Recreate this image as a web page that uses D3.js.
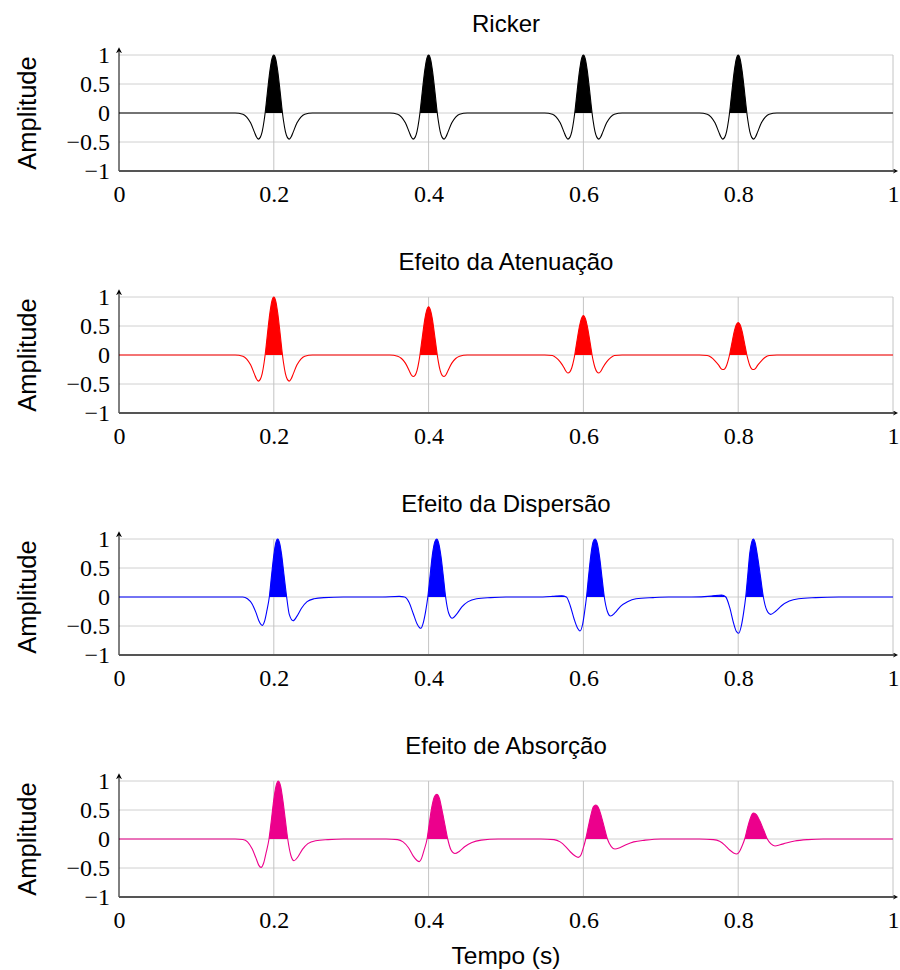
<!DOCTYPE html>
<html>
<head>
<meta charset="utf-8">
<script src="https://cdn.jsdelivr.net/npm/d3@7"></script>
<style>
  body { margin: 0; background: #fff; }
  text { fill: #000; }
</style>
</head>
<body>
<svg id="chart" width="900" height="970"></svg>
<script>
// ---- data ----
var titles = ["Ricker", "Efeito da Atenuação", "Efeito da Dispersão", "Efeito de Absorção"];
var xTicks = [0, 0.2, 0.4, 0.6, 0.8, 1];
var yTicks = [-1, -0.5, 0, 0.5, 1];
var xLabel = "Tempo (s)", yLabel = "Amplitude";

// sample times of the four symmetric pulses (ricker + attenuation)
var pulseTimes = [
  [0.15,0.16,0.165,0.17,0.175,0.1775,0.18,0.1825,0.185,0.1875,0.1888,0.19,0.1925,0.195,0.1975,0.2,0.2025,0.205,0.2075,0.21,0.2112,0.2125,0.215,0.2175,0.22,0.2225,0.225,0.23,0.235,0.24,0.25],
  [0.35,0.36,0.365,0.37,0.375,0.3775,0.38,0.3825,0.385,0.3875,0.3888,0.39,0.3925,0.395,0.3975,0.4,0.4025,0.405,0.4075,0.41,0.4112,0.4125,0.415,0.4175,0.42,0.4225,0.425,0.43,0.435,0.44,0.45],
  [0.55,0.56,0.565,0.57,0.575,0.5775,0.58,0.5825,0.585,0.5875,0.5888,0.59,0.5925,0.595,0.5975,0.6,0.6025,0.605,0.6075,0.61,0.6112,0.6125,0.615,0.6175,0.62,0.6225,0.625,0.63,0.635,0.64,0.65],
  [0.75,0.76,0.765,0.77,0.775,0.7775,0.78,0.7825,0.785,0.7875,0.7888,0.79,0.7925,0.795,0.7975,0.8,0.8025,0.805,0.8075,0.81,0.8112,0.8125,0.815,0.8175,0.82,0.8225,0.825,0.83,0.835,0.84,0.85]
];

var rickerValues = [
  [0,-0.02,-0.07,-0.17,-0.33,-0.41,-0.45,-0.42,-0.32,-0.13,0,0.14,0.45,0.73,0.93,1,0.93,0.73,0.45,0.14,0,-0.13,-0.32,-0.42,-0.45,-0.41,-0.33,-0.17,-0.07,-0.02,0],
  [0,-0.02,-0.07,-0.17,-0.33,-0.41,-0.45,-0.42,-0.32,-0.13,0,0.14,0.45,0.73,0.93,1,0.93,0.73,0.45,0.14,0,-0.13,-0.32,-0.42,-0.45,-0.41,-0.33,-0.17,-0.07,-0.02,0],
  [0,-0.02,-0.07,-0.17,-0.33,-0.41,-0.45,-0.42,-0.32,-0.13,0,0.14,0.45,0.73,0.93,1,0.93,0.73,0.45,0.14,0,-0.13,-0.32,-0.42,-0.45,-0.41,-0.33,-0.17,-0.07,-0.02,0],
  [0,-0.02,-0.07,-0.17,-0.33,-0.41,-0.45,-0.42,-0.32,-0.13,0,0.14,0.45,0.73,0.93,1,0.93,0.73,0.45,0.14,0,-0.13,-0.32,-0.42,-0.45,-0.41,-0.33,-0.17,-0.07,-0.02,0]
];

var attenValues = [
  [0,-0.02,-0.07,-0.17,-0.33,-0.41,-0.45,-0.42,-0.32,-0.13,0,0.14,0.45,0.73,0.93,1,0.93,0.73,0.45,0.14,0,-0.13,-0.32,-0.42,-0.45,-0.41,-0.33,-0.17,-0.07,-0.02,0],
  [0,-0.02,-0.06,-0.14,-0.27,-0.34,-0.37,-0.35,-0.27,-0.11,0,0.12,0.37,0.61,0.77,0.83,0.77,0.61,0.37,0.12,0,-0.11,-0.27,-0.35,-0.37,-0.34,-0.27,-0.14,-0.06,-0.02,0],
  [0,-0.01,-0.05,-0.12,-0.22,-0.28,-0.31,-0.29,-0.22,-0.09,0,0.10,0.31,0.50,0.63,0.68,0.63,0.50,0.31,0.10,0,-0.09,-0.22,-0.29,-0.31,-0.28,-0.22,-0.12,-0.05,-0.01,0],
  [0,-0.01,-0.04,-0.10,-0.18,-0.23,-0.25,-0.24,-0.18,-0.07,0,0.08,0.25,0.41,0.52,0.56,0.52,0.41,0.25,0.08,0,-0.07,-0.18,-0.24,-0.25,-0.23,-0.18,-0.10,-0.04,-0.01,0]
];

// [time, amplitude] samples of the dispersed pulses
var dispPulses = [
  [[0.150,0],[0.160,0],[0.166,-0.03],[0.172,-0.12],[0.177,-0.27],[0.181,-0.42],[0.185,-0.49],[0.188,-0.42],[0.191,-0.24],[0.1942,0],[0.197,0.36],[0.200,0.72],[0.2025,0.93],[0.205,1.0],[0.2075,0.93],[0.210,0.74],[0.213,0.40],[0.2166,0],[0.220,-0.30],[0.225,-0.41],[0.230,-0.33],[0.236,-0.19],[0.243,-0.08],[0.252,-0.03],[0.265,-0.01],[0.29,0]],
  [[0.340,0],[0.362,0.01],[0.369,0],[0.375,-0.10],[0.380,-0.28],[0.385,-0.46],[0.390,-0.54],[0.393,-0.45],[0.396,-0.26],[0.399,0],[0.402,0.38],[0.405,0.74],[0.408,0.95],[0.4105,1.0],[0.413,0.93],[0.416,0.70],[0.419,0.36],[0.422,0],[0.426,-0.28],[0.4306,-0.367],[0.436,-0.30],[0.443,-0.17],[0.451,-0.08],[0.462,-0.03],[0.48,-0.01],[0.50,0]],
  [[0.540,0],[0.560,0.01],[0.572,0.02],[0.578,0],[0.583,-0.15],[0.588,-0.38],[0.5925,-0.54],[0.5956,-0.586],[0.599,-0.47],[0.6015,-0.26],[0.604,0],[0.607,0.40],[0.610,0.76],[0.6125,0.95],[0.615,1.0],[0.618,0.92],[0.621,0.68],[0.624,0.34],[0.627,0],[0.631,-0.25],[0.635,-0.328],[0.641,-0.27],[0.648,-0.16],[0.657,-0.08],[0.668,-0.03],[0.69,-0.01],[0.71,0]],
  [[0.740,0],[0.765,0.015],[0.7786,0.035],[0.784,0],[0.789,-0.18],[0.794,-0.45],[0.7975,-0.59],[0.8006,-0.626],[0.804,-0.50],[0.807,-0.27],[0.8097,0],[0.8125,0.40],[0.815,0.76],[0.8175,0.95],[0.8195,1.0],[0.822,0.93],[0.825,0.70],[0.829,0.33],[0.8325,0],[0.837,-0.23],[0.842,-0.30],[0.848,-0.25],[0.856,-0.15],[0.866,-0.07],[0.878,-0.03],[0.90,-0.01],[0.93,0]]
];

// [time, amplitude] samples of the absorbed pulses
var absPulses = [
  [[0.150,0],[0.160,-0.01],[0.166,-0.05],[0.172,-0.17],[0.177,-0.33],[0.1805,-0.45],[0.1835,-0.49],[0.187,-0.41],[0.190,-0.24],[0.1938,0],[0.197,0.34],[0.200,0.68],[0.203,0.92],[0.2059,1.0],[0.209,0.90],[0.212,0.64],[0.215,0.32],[0.218,0],[0.222,-0.28],[0.2261,-0.375],[0.231,-0.31],[0.237,-0.18],[0.244,-0.08],[0.254,-0.03],[0.27,-0.01],[0.29,0]],
  [[0.345,0],[0.360,-0.01],[0.367,-0.05],[0.374,-0.15],[0.380,-0.29],[0.385,-0.37],[0.388,-0.39],[0.391,-0.33],[0.394,-0.20],[0.398,0],[0.401,0.28],[0.404,0.54],[0.4075,0.73],[0.4105,0.77],[0.414,0.70],[0.417,0.52],[0.421,0.25],[0.4247,0],[0.429,-0.19],[0.434,-0.25],[0.440,-0.21],[0.447,-0.13],[0.456,-0.06],[0.468,-0.02],[0.49,0]],
  [[0.545,0],[0.562,-0.01],[0.570,-0.05],[0.577,-0.13],[0.583,-0.22],[0.589,-0.29],[0.5934,-0.316],[0.597,-0.27],[0.600,-0.15],[0.603,0],[0.6065,0.22],[0.610,0.43],[0.613,0.56],[0.6159,0.586],[0.619,0.55],[0.623,0.40],[0.627,0.20],[0.631,0],[0.636,-0.13],[0.6408,-0.172],[0.647,-0.15],[0.655,-0.10],[0.665,-0.05],[0.68,-0.02],[0.70,0]],
  [[0.750,0],[0.768,-0.01],[0.776,-0.04],[0.783,-0.11],[0.789,-0.19],[0.794,-0.24],[0.798,-0.259],[0.8015,-0.22],[0.805,-0.12],[0.8084,0],[0.812,0.19],[0.8155,0.35],[0.818,0.43],[0.820,0.448],[0.8235,0.42],[0.828,0.31],[0.833,0.15],[0.8376,0],[0.842,-0.08],[0.8475,-0.12],[0.854,-0.10],[0.862,-0.07],[0.873,-0.035],[0.89,-0.01],[0.91,0]]
];

// ---- styles / layout ----
var colors = ["#000000", "#ff0000", "#0000ff", "#ec008c"];
var left = 119, plotW = 774, top0 = 55, plotH = 116, step = 242;
var sans = "'Liberation Sans', Arial, sans-serif",
    serif = "'Liberation Serif', 'Times New Roman', serif";

function zip(ts, vs) { return ts.map(function(t, i) { return [t, vs[i]]; }); }
var panels = [
  pulseTimes.map(function(ts, i) { return zip(ts, rickerValues[i]); }),
  pulseTimes.map(function(ts, i) { return zip(ts, attenValues[i]); }),
  dispPulses,
  absPulses
];

var svg = d3.select("#chart");
var defs = svg.append("defs");
defs.append("marker").attr("id", "arrowX")
    .attr("viewBox", "0 0 10 10").attr("refX", 2).attr("refY", 5)
    .attr("markerWidth", 5).attr("markerHeight", 5).attr("orient", "auto")
    .attr("markerUnits", "userSpaceOnUse")
  .append("path").attr("d", "M0,0 L10,5 L0,10 L3,5 z").attr("fill", "#000");
defs.append("marker").attr("id", "arrowY")
    .attr("viewBox", "0 0 10 10").attr("refX", 2).attr("refY", 5)
    .attr("markerWidth", 6).attr("markerHeight", 6).attr("orient", "auto")
    .attr("markerUnits", "userSpaceOnUse")
  .append("path").attr("d", "M0,0 L10,5 L0,10 L3,5 z").attr("fill", "#000");

var x = d3.scaleLinear().domain([0, 1]).range([0, plotW]);
var y = d3.scaleLinear().domain([-1, 1]).range([plotH, 0]);

// clip used to keep only the positive lobes of the fill (local panel coords)
defs.append("clipPath").attr("id", "posLobe")
  .append("rect").attr("x", 0).attr("y", -5)
  .attr("width", plotW).attr("height", y(0) + 5);

panels.forEach(function(pulses, p) {
  var g = svg.append("g").attr("transform", "translate(" + left + "," + (top0 + p * step) + ")");

  // flatten pulses into one trace, flat at zero between them
  var pts = [[0, 0]];
  pulses.forEach(function(pl) { pts = pts.concat(pl); });
  pts.push([1, 0]);

  // grid
  g.append("g").selectAll("line.h")
      .data(yTicks.filter(function(d) { return d > -1; }))
    .enter().append("line")
      .attr("x1", 0).attr("x2", plotW)
      .attr("y1", function(d) { return y(d); }).attr("y2", function(d) { return y(d); })
      .style("stroke", "#d0d0d0").style("stroke-width", 1);
  g.append("g").selectAll("line.v")
      .data(xTicks.filter(function(d) { return d > 0; }))
    .enter().append("line")
      .attr("x1", function(d) { return x(d); }).attr("x2", function(d) { return x(d); })
      .attr("y1", 0).attr("y2", plotH)
      .style("stroke", "#c4c4c4").style("stroke-width", 1);

  // positive lobes filled
  var area = d3.area()
      .x(function(d) { return x(d[0]); })
      .y0(y(0))
      .y1(function(d) { return y(d[1]); })
      .curve(d3.curveMonotoneX);
  g.append("g").attr("clip-path", "url(#posLobe)")
    .append("path").datum(pts)
      .attr("d", area)
      .style("fill", colors[p]).style("stroke", "none");

  var line = d3.line()
      .x(function(d) { return x(d[0]); })
      .y(function(d) { return y(d[1]); })
      .curve(d3.curveMonotoneX);
  g.append("path").datum(pts)
      .attr("d", line)
      .style("fill", "none").style("stroke", colors[p]).style("stroke-width", 1.1);

  // axes
  g.append("line")
      .attr("x1", 0).attr("x2", 0).attr("y1", plotH).attr("y2", -3)
      .attr("marker-end", "url(#arrowY)")
      .style("stroke", "#000").style("stroke-width", 1);
  g.append("line")
      .attr("x1", 0).attr("x2", plotW + 1).attr("y1", plotH).attr("y2", plotH)
      .attr("marker-end", "url(#arrowX)")
      .style("stroke", "#555").style("stroke-width", 2.2);

  var xa = g.append("g").attr("transform", "translate(0," + plotH + ")")
      .call(d3.axisBottom(x).tickValues(xTicks).tickSize(0).tickPadding(14).tickFormat(d3.format("")));
  var ya = g.append("g")
      .call(d3.axisLeft(y).tickValues(yTicks).tickSize(0).tickPadding(9).tickFormat(d3.format("")));
  [xa, ya].forEach(function(a) {
    a.select(".domain").remove();
    a.selectAll("text").style("font-family", serif).style("font-size", "24px").attr("fill", "#000");
  });

  // title sits on its box bottom, so titles with descenders ride a bit higher (as in TeX)
  var deep = /[gjpqyç]/.test(titles[p]);
  g.append("text")
      .attr("x", plotW / 2).attr("y", deep ? -27 : -23)
      .attr("text-anchor", "middle")
      .style("font-family", sans).style("font-size", "24px")
      .text(titles[p]);
  g.append("text")
      .attr("transform", "translate(" + (36 - left) + "," + (plotH / 2) + ") rotate(-90)")
      .attr("text-anchor", "middle")
      .style("font-family", sans).style("font-size", "25.5px")
      .text(yLabel);
});

svg.append("text")
    .attr("x", left + plotW / 2).attr("y", 964)
    .attr("text-anchor", "middle")
    .style("font-family", sans).style("font-size", "24.5px")
    .text(xLabel);
</script>
</body>
</html>
